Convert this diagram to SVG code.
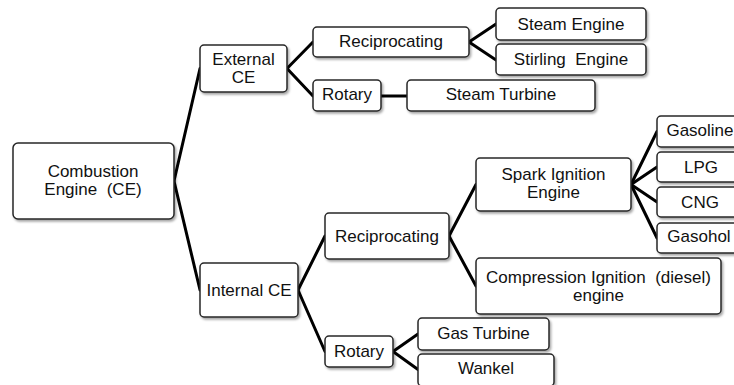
<svg xmlns="http://www.w3.org/2000/svg" width="734" height="385" viewBox="0 0 734 385">
<defs>
<filter id="sh" x="-10%" y="-10%" width="130%" height="140%">
<feDropShadow dx="1.5" dy="2" stdDeviation="1.2" flood-color="#000" flood-opacity="0.35"/>
</filter>
</defs>
<style>
rect.b{fill:#fff;stroke:#262626;stroke-width:1.5;filter:url(#sh)}
text{font-family:"Liberation Sans",Arial,sans-serif;font-size:17px;fill:#111;text-anchor:middle;white-space:pre}
#connectors line{stroke:#000;stroke-width:3;stroke-linecap:round}
</style>
<rect width="734" height="385" fill="#fff"/>
<g id="connectors">
<line x1="174" y1="181" x2="200" y2="68.5"/>
<line x1="174" y1="181" x2="200" y2="290"/>
<line x1="287" y1="68.5" x2="313" y2="42"/>
<line x1="287" y1="68.5" x2="313" y2="96"/>
<line x1="381" y1="96" x2="407" y2="96"/>
<line x1="469" y1="42" x2="496" y2="24"/>
<line x1="469" y1="42" x2="496" y2="60"/>
<line x1="298" y1="290" x2="325" y2="236"/>
<line x1="298" y1="290" x2="325" y2="351.5"/>
<line x1="449" y1="236" x2="476" y2="184.5"/>
<line x1="449" y1="236" x2="476" y2="286"/>
<line x1="631" y1="184.5" x2="657" y2="131.5"/>
<line x1="631" y1="184.5" x2="657" y2="167"/>
<line x1="631" y1="184.5" x2="657" y2="202"/>
<line x1="631" y1="184.5" x2="657" y2="238"/>
<line x1="393" y1="351.5" x2="418" y2="334"/>
<line x1="393" y1="351.5" x2="418" y2="369.5"/>
</g>
<g id="combustion-engine"><rect class="b" x="13" y="143" width="161" height="76" rx="5"/><text x="93" y="177">Combustion</text><text x="93" y="195">Engine  (CE)</text></g>
<g id="external-ce"><rect class="b" x="200" y="45" width="87" height="47" rx="4"/><text x="243.5" y="65">External</text><text x="243.5" y="83">CE</text></g>
<g id="ext-reciprocating"><rect class="b" x="313" y="27" width="156" height="30" rx="4"/><text x="391" y="47">Reciprocating</text></g>
<g id="ext-rotary"><rect class="b" x="313" y="80" width="68" height="31" rx="4"/><text x="347" y="100">Rotary</text></g>
<g id="steam-engine"><rect class="b" x="496" y="8" width="150" height="32" rx="4"/><text x="571" y="30">Steam Engine</text></g>
<g id="stirling-engine"><rect class="b" x="496" y="44" width="150" height="31" rx="4"/><text x="571" y="65">Stirling  Engine</text></g>
<g id="steam-turbine"><rect class="b" x="407" y="80" width="188" height="31" rx="4"/><text x="501" y="100">Steam Turbine</text></g>
<g id="internal-ce"><rect class="b" x="200" y="263" width="98" height="54" rx="4"/><text x="249" y="295.5">Internal CE</text></g>
<g id="int-reciprocating"><rect class="b" x="325" y="213" width="124" height="46" rx="4"/><text x="387" y="242">Reciprocating</text></g>
<g id="int-rotary"><rect class="b" x="325" y="336" width="68" height="31" rx="4"/><text x="359" y="357">Rotary</text></g>
<g id="spark-ignition"><rect class="b" x="476" y="158" width="155" height="53" rx="4"/><text x="553.5" y="180">Spark Ignition</text><text x="553.5" y="198">Engine</text></g>
<g id="compression-ignition"><rect class="b" x="476" y="258" width="245" height="56" rx="4"/><text x="598.5" y="283">Compression Ignition  (diesel)</text><text x="598.5" y="301">engine</text></g>
<g id="gasoline"><rect class="b" x="657" y="116" width="88" height="31" rx="4"/><text x="700" y="136">Gasoline</text></g>
<g id="lpg"><rect class="b" x="657" y="152" width="88" height="30" rx="4"/><text x="701" y="173">LPG</text></g>
<g id="cng"><rect class="b" x="657" y="187" width="88" height="30" rx="4"/><text x="700" y="208">CNG</text></g>
<g id="gasohol"><rect class="b" x="657" y="223" width="88" height="30" rx="4"/><text x="699" y="242">Gasohol</text></g>
<g id="gas-turbine"><rect class="b" x="418" y="318" width="131" height="32" rx="4"/><text x="483.5" y="339">Gas Turbine</text></g>
<g id="wankel"><rect class="b" x="418" y="354" width="136" height="32" rx="4"/><text x="486" y="374">Wankel</text></g>
</svg>
